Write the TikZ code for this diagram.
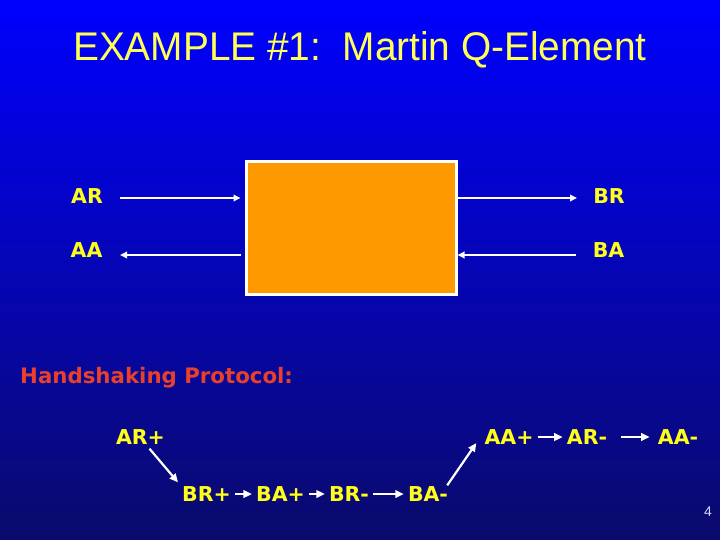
\documentclass[tikz,border=0pt]{standalone}
\usepackage{fontspec}
\setmainfont{Liberation Sans}
\newfontfamily\titlefont{Liberation Sans}[FakeStretch=0.97]
\newfontfamily\labfont{DejaVu Sans}
\usetikzlibrary{arrows.meta}
\definecolor{bgtop}{HTML}{0000FF}
\definecolor{bgmid}{HTML}{0000D6}
\definecolor{bgbot}{HTML}{0A0A6C}
\definecolor{ttl}{HTML}{FFFF55}
\definecolor{lab}{HTML}{FFFF1A}
\definecolor{boxfill}{HTML}{FF9900}
\definecolor{hs}{HTML}{E8402A}
\tikzset{
  lbl/.style={text=lab, font=\labfont\bfseries\fontsize{20.5}{24}\selectfont, inner sep=4pt, anchor=base},
  arr/.style={draw=white, line width=2pt, -{Triangle[length=7pt,width=6.5pt]}},
  sarr/.style={draw=white, line width=2.2pt, -{Triangle[length=8.5pt,width=7.5pt]}},
}
\begin{document}
\begin{tikzpicture}[x=1pt,y=-1pt]
\useasboundingbox (0,0) rectangle (720,540);
\shade[top color=bgtop, middle color=bgmid, bottom color=bgbot] (0,0) rectangle (720,540);

% title
\node[anchor=base, text=ttl, font=\titlefont\fontsize{40}{46}\selectfont, inner sep=0] (title) at (360,61) {EXAMPLE \#1:\ \ Martin Q-Element};

% Q-element box
\node[draw=white, line width=3pt, fill=boxfill, minimum width=210pt, minimum height=132pt, inner sep=0] (box) at (351,228) {};

% port labels
\node[lbl] (AR) at (87,204) {AR};
\node[lbl] (AA) at (86.5,258) {AA};
\node[lbl] (BR) at (609,204) {BR};
\node[lbl] (BA) at (608.5,258) {BA};

\coordinate (ARt) at (120,198);
\coordinate (AAt) at (120,255);
\coordinate (BRt) at (577,198);
\coordinate (BAt) at (576,255);
\draw[arr, shorten >=4pt] (ARt) -- (ARt -| box.west);
\draw[arr, shorten <=4pt] (AAt -| box.west) -- (AAt);
\draw[arr] (BRt -| box.east) -- (BRt);
\draw[arr] (BAt) -- (BAt -| box.east);

% handshaking protocol
\node[anchor=base west, text=hs, font=\labfont\bfseries\fontsize{21.3}{24}\selectfont, inner sep=0] (hs) at (20,383) {Handshaking Protocol:};

\node[lbl] (ARp) at (140.5,444.5) {AR+};
\node[lbl] (AAp) at (509,444.5) {AA+};
\node[lbl] (ARm) at (587,444.5) {AR-};
\node[lbl] (AAm) at (678,444.5) {AA-};
\node[lbl] (BRp) at (206.5,501.5) {BR+};
\node[lbl] (BAp) at (280.5,501.5) {BA+};
\node[lbl] (BRm) at (349,501.5) {BR-};
\node[lbl] (BAm) at (428,501.5) {BA-};

\draw[sarr] ([xshift=9pt]ARp.south) -- (BRp.north west);
\draw[sarr] (BRp) -- (BAp);
\draw[sarr] (BAp) -- (BRm);
\draw[sarr] (BRm) -- (BAm);
\draw[sarr] ([xshift=-5pt,yshift=-3pt]BAm.north east) -- ([shift={(-4pt,-6pt)}]AAp.west);
\draw[sarr] (AAp) -- (ARm);
\draw[sarr, shorten <=10pt, shorten >=4pt] (ARm) -- (AAm);

% page number
\node[text=white!85!blue, font=\fontsize{14}{16}\selectfont, inner sep=0] (pg) at (708,512) {4};
\end{tikzpicture}
\end{document}
